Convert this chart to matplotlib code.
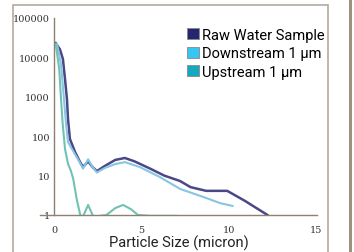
import matplotlib.pyplot as plt
from matplotlib.patches import Patch, Rectangle
from matplotlib.lines import Line2D

# particle counts
raw_x = [0.1, 0.34, 0.51, 0.63, 0.74, 0.8, 0.91, 1.2, 1.49, 1.66, 1.95, 2.2, 2.45, 2.9, 3.5, 4.05,
         4.6, 5.5, 6.3, 7.2, 7.8, 8.7, 9.9, 10.9, 12.2]
raw_y = [23000, 16000, 9100, 2800, 880, 275, 85, 40, 22, 16.5, 23, 16.5, 13, 17.5, 25, 28,
         23, 15, 10, 7.3, 5.1, 4.1, 4.1, 2.3, 1.0]

down_x = [0.17, 0.4, 0.57, 0.69, 0.8, 1.03, 1.37, 1.66, 1.95, 2.2, 2.45, 2.9, 3.5, 4.05, 4.9,
          6.05, 7.2, 8.5, 9.5, 10.2]
down_y = [22000, 6700, 880, 200, 71, 47, 26, 15, 26, 16.5, 12, 15.6, 19.6, 22, 16.5,
          9.2, 4.6, 2.9, 2.0, 1.7]

up_x = [0.1, 0.3, 0.4, 0.5, 0.63, 0.8, 0.97, 1.1, 1.3, 1.5, 1.65, 1.95, 2.25, 2.6, 3.0, 3.5,
        3.95, 4.4, 4.8, 5.5, 7.0]
up_y = [22000, 5000, 880, 200, 47, 20, 13, 8.2, 2.5, 1.0, 0.9, 1.8, 0.9, 0.95, 1.0, 1.5,
        1.8, 1.4, 1.0, 0.95, 0.95]

series = ["Raw Water Sample", "Downstream 1 \u03bcm", "Upstream 1 \u03bcm"]
line_colors = ["#4a4886", "#86c6e2", "#72c2b4"]
patch_colors = ["#26266e", "#35c6f2", "#15a9bf"]

x_ticks = [0, 5, 10, 15]
y_ticks = [1, 10, 100, 1000, 10000, 100000]

W, H = 354, 253
fig = plt.figure(figsize=(W / 100, H / 100), dpi=100)

# outer frame and right divider
fig.patches.append(Rectangle((13 / W, -0.1), (328 - 13) / W, 1.1 - 6 / H, transform=fig.transFigure,
                             fill=False, edgecolor="#b3aa9e", linewidth=1.2))
fig.add_artist(Line2D([350 / W, 350 / W], [0, 1], transform=fig.transFigure,
                      color="#9c9282", linewidth=2.2))

ax = fig.add_axes([40 / W, (H - 216) / H, (317 - 40) / W, (216 - 19) / H])
ax.set_facecolor("none")

ax.plot(raw_x, raw_y, color=line_colors[0], lw=1.8)
ax.plot(down_x, down_y, color=line_colors[1], lw=1.5)
ax.plot(up_x, up_y, color=line_colors[2], lw=1.5)

ax.set_yscale("log")
ax.set_ylim(1, 100000)
ax.set_xlim(-0.8, 15.03)

ax.spines["top"].set_visible(False)
ax.spines["right"].set_visible(False)
ax.spines["left"].set_position(("data", 0))
for s in ("left", "bottom"):
    ax.spines[s].set_color("#8c8070")
    ax.spines[s].set_linewidth(1.0)

ax.set_xticks(x_ticks)
ax.set_xticklabels([str(t) for t in x_ticks])
ax.set_yticks(y_ticks)
ax.set_yticklabels([str(t) for t in y_ticks])
ax.minorticks_off()
ax.tick_params(axis="both", length=0, labelsize=7, labelcolor="#333333")
ax.tick_params(axis="x", pad=7)
ax.tick_params(axis="y", pad=3)
for lab in ax.get_xticklabels() + ax.get_yticklabels():
    lab.set_family("DejaVu Serif")

ax.set_xlabel("Particle Size (micron)", fontsize=10.5, family="Roboto", color="#222222", labelpad=1)

handles = [Patch(facecolor=c, edgecolor="#888888", linewidth=0.6) for c in patch_colors]
ax.legend(handles, series, loc="upper left", bbox_to_anchor=(147 / 277, 0.95), frameon=False,
          prop={"family": "Roboto", "size": 10.5}, handlelength=0.8, handleheight=0.8,
          handletextpad=0.2, labelspacing=0.3, borderpad=0, borderaxespad=0)

fig.savefig("out.png", dpi=100)
